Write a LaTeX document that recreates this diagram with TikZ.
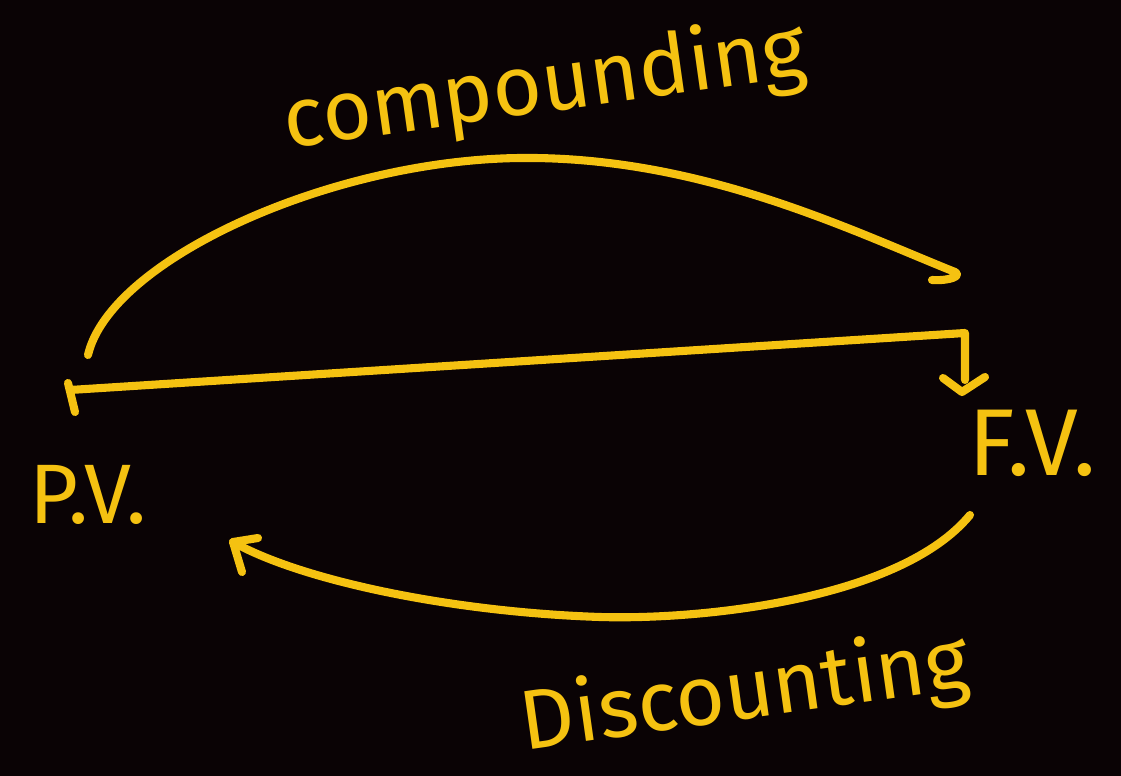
\documentclass[tikz,border=0pt]{standalone}
\usepackage{fontspec}
\setmainfont{Fira Sans}
\definecolor{bg}{HTML}{0A0305}
\definecolor{ink}{HTML}{F5C211}
\tikzset{
  pen/.style={draw=ink, line width=2.3pt, line cap=round, line join=round},
  hand/.style={text=ink, font=\fontsize{24}{28}\selectfont, inner sep=0pt},
  lbl/.style={text=ink, font=\fontsize{24}{28}\selectfont, inner sep=0pt}
}
\begin{document}
\begin{tikzpicture}[x=0.01cm,y=-0.01cm]
\fill[bg] (0,0) rectangle (1121,776);
\useasboundingbox (0,0) rectangle (1121,776);
% labels
\node[hand, rotate=8] (comp) at (545,88) {compounding};
\node[hand, rotate=8] (disc) at (745,695) {Discounting};
\node[lbl] (pv) at (88,495) {P.V.};
\node[lbl, anchor=west, font=\fontsize{27}{30}\selectfont] (fv) at (968,443) {F.V.};
% time line
\coordinate (a) at (70,390);
\coordinate (b) at (965,333);
\coordinate (bd) at (965,380);
\draw[pen] (68,383) -- (75,412);
\draw[pen] (a) -- (b) -- (bd);
\draw[pen] (943,378) -- (962,392) -- (985,377);
% compounding arc
\coordinate (cs) at (88,355);
\coordinate (ce) at (955,272);
\draw[pen] (cs) .. controls (110,260) and (330,160) .. (520,158)
  .. controls (700,156) and (850,230) .. (ce) .. controls (962,276) and (950,281) .. (932,280);
% discounting arc
\coordinate (ds) at (970,515);
\coordinate (de) at (233,542);
\draw[pen] (ds) .. controls (900,600) and (700,620) .. (600,617)
  .. controls (450,612) and (300,580) .. (de);
\draw[pen] (258,538) -- (de) -- (242,572);
\end{tikzpicture}
\end{document}
